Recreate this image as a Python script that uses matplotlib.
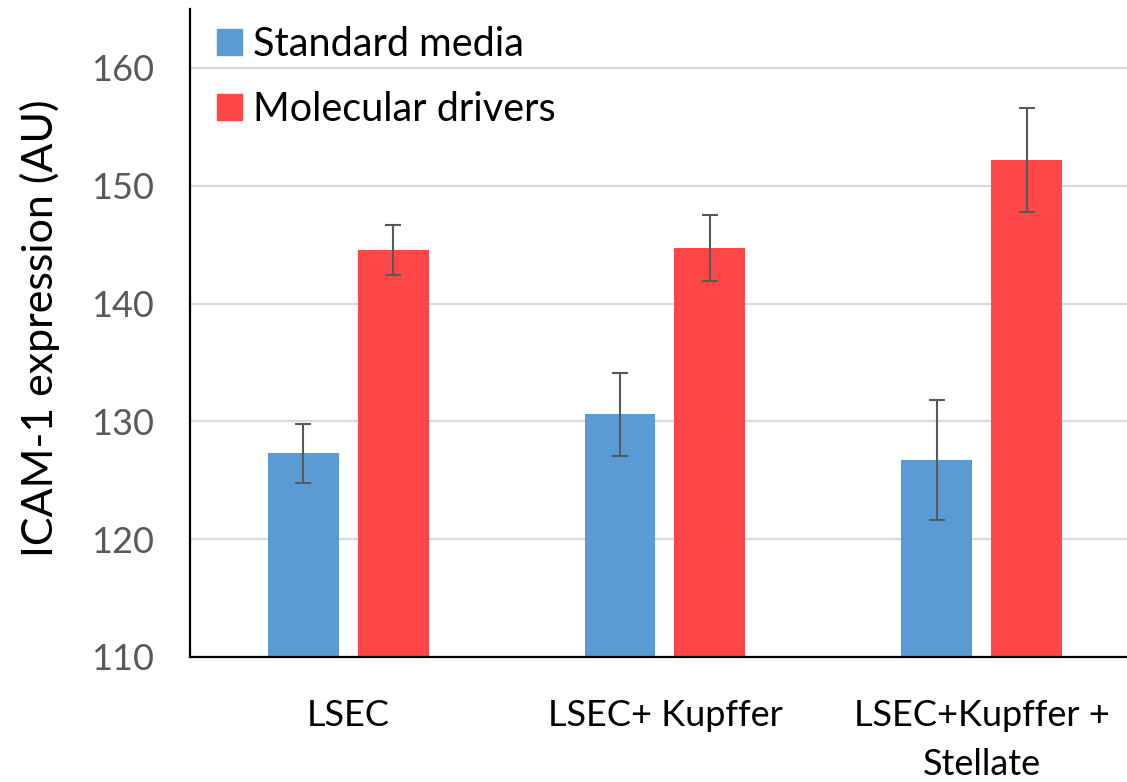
import matplotlib
matplotlib.use("Agg")
import matplotlib.pyplot as plt
import numpy as np
from matplotlib.patches import Patch

categories = ["LSEC", "LSEC+ Kupffer", "LSEC+Kupffer +\nStellate"]
series_names = ["Standard media", "Molecular drivers"]
standard = [127.3, 130.6, 126.7]
standard_err = [2.5, 3.5, 5.1]
molecular = [144.55, 144.7, 152.2]
molecular_err = [2.15, 2.8, 4.4]
yticks = [110, 120, 130, 140, 150, 160]

plt.rcParams['font.family'] = ['Lato', 'DejaVu Sans']

fig = plt.figure(figsize=(11.27, 7.82), dpi=100)
ax = fig.add_axes([190/1127, 1-657/782, 950/1127, (657-9)/782])

x = np.arange(len(categories))
w = 0.224
off = 0.142
blue = "#5B9BD5"
red = "#FF4747"
ecol = "#595959"

ax.bar(x - off, standard, w, color=blue, zorder=2)
ax.bar(x + off, molecular, w, color=red, zorder=2)
ax.errorbar(x - off, standard, yerr=standard_err, fmt="none", ecolor=ecol,
            elinewidth=1.5, capsize=6, capthick=1.5, zorder=3)
ax.errorbar(x + off, molecular, yerr=molecular_err, fmt="none", ecolor=ecol,
            elinewidth=1.5, capsize=6, capthick=1.5, zorder=3)

ax.set_xlim(-0.5, 2.5)
ax.set_ylim(110, 165)
ax.set_yticks(yticks)
ax.set_xticks(x)
ax.set_xticklabels(categories, fontsize=26, color="black", linespacing=1.6)
ax.tick_params(axis="y", length=0, labelsize=26, labelcolor="#595959", pad=26)
ax.tick_params(axis="x", length=0, pad=30)
ax.yaxis.grid(True, color="#D9D9D9", linewidth=1.6, zorder=0)
ax.set_axisbelow(True)
for s in ["top", "right"]:
    ax.spines[s].set_visible(False)
ax.spines["left"].set_linewidth(1.6)
ax.spines["bottom"].set_linewidth(1.6)
ax.spines["left"].set_zorder(4)
ax.spines["bottom"].set_zorder(4)

fig.text(40/1127, 1-328/782, "ICAM-1 expression (AU)", rotation=90,
         fontsize=31, ha="center", va="center", color="black")

handles = [Patch(color=blue), Patch(color=red)]
ax.legend(handles, series_names, loc="upper left",
          bbox_to_anchor=(217/1127, 1-26/782), bbox_transform=fig.transFigure,
          frameon=False, fontsize=28.5, handlelength=0.63, handleheight=0.63,
          handletextpad=0.28, labelspacing=0.7, borderaxespad=0, borderpad=0)

fig.savefig("out.png", dpi=100)
